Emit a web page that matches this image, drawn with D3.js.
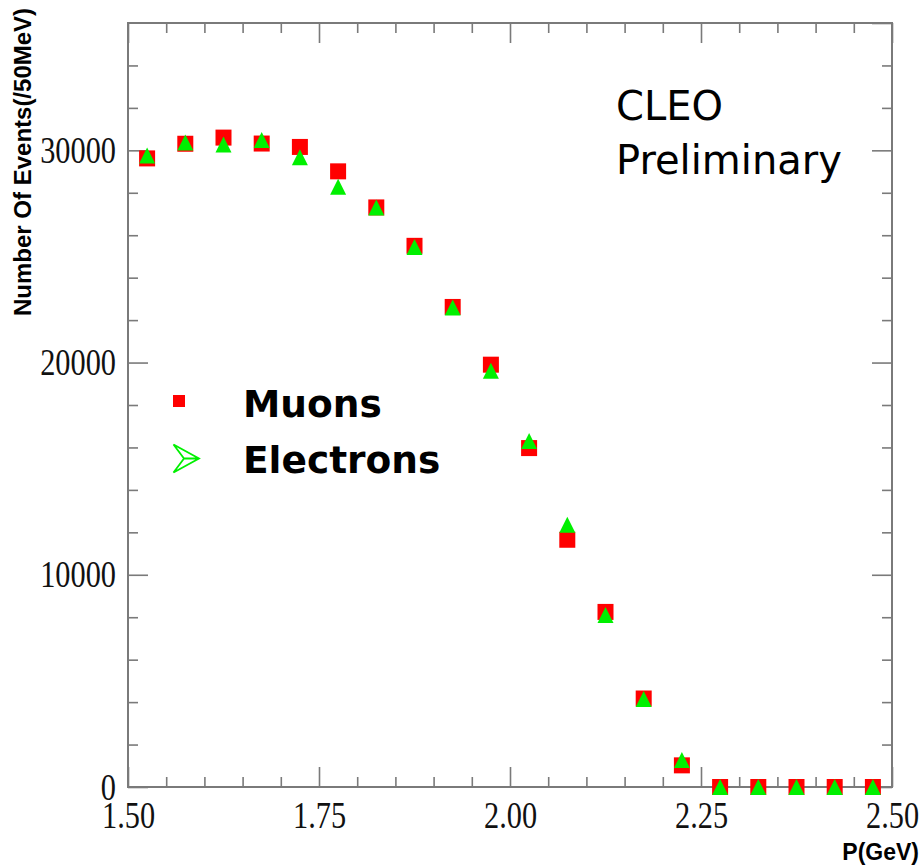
<!DOCTYPE html>
<html>
<head>
<meta charset="utf-8">
<script src="https://cdn.jsdelivr.net/npm/d3@7"></script>
<style>
  html, body { margin: 0; padding: 0; background: #fff; }
  svg { display: block; }
</style>
</head>
<body>
<svg id="chart" width="920" height="866"></svg>
<script>
// Momentum bin centres (GeV), 50 MeV wide
const momentum = [1.525, 1.575, 1.625, 1.675, 1.725, 1.775, 1.825, 1.875, 1.925, 1.975,
                  2.025, 2.075, 2.125, 2.175, 2.225, 2.275, 2.325, 2.375, 2.425, 2.475];
// Events per 50 MeV bin
const muons     = [29620, 30310, 30600, 30320, 30160, 29010, 27310, 25500, 22620, 19900,
                   15970, 11650, 8250, 4170, 1020, 0, 0, 0, 0, 0];
const electrons = [29760, 30370, 30270, 30490, 29670, 28280, 27310, 25450, 22590, 19610,
                   16300, 12360, 8110, 4150, 1270, 0, 0, 0, 0, 0];

const xMajorTicks = [1.50, 1.75, 2.00, 2.25, 2.50];
const xMinorTicks = [1.55, 1.60, 1.65, 1.70, 1.80, 1.85, 1.90, 1.95, 2.05, 2.10, 2.15, 2.20, 2.30, 2.35, 2.40, 2.45];
const yMajorTicks = [0, 10000, 20000, 30000];
const yMinorTicks = [2000, 4000, 6000, 8000, 12000, 14000, 16000, 18000, 22000, 24000, 26000, 28000, 32000, 34000];

const legendLabels = ["Muons", "Electrons"];
const noteLines = ["CLEO", "Preliminary"];

const frame = { left: 128, right: 892, top: 23, bottom: 787 };
const svg = d3.select("#chart");

const x = d3.scaleLinear().domain([1.5, 2.5]).range([frame.left, frame.right]);
const y = d3.scaleLinear().domain([0, 36000]).range([frame.bottom, frame.top]);

const axisColor = "#7a7a7a";
const serif = "'Liberation Serif', 'Times New Roman', serif";
const squeeze = 0.82;

function styleAxis(g) {
  g.select(".domain").remove();
  g.selectAll(".tick line").attr("stroke", axisColor).attr("stroke-width", 1.6);
}

// Bottom axis: minor + major ticks pointing inward, serif labels
svg.append("g").attr("transform", `translate(0,${frame.bottom})`)
  .call(d3.axisBottom(x).tickValues(xMinorTicks).tickSize(-10).tickFormat(""))
  .call(styleAxis);
const xb = svg.append("g").attr("transform", `translate(0,${frame.bottom})`)
  .call(d3.axisBottom(x).tickValues(xMajorTicks).tickSize(-20).tickPadding(15).tickFormat(d3.format(".2f")))
  .call(styleAxis);
xb.selectAll(".tick text")
  .attr("fill", "#111").style("font-family", serif).style("font-size", "37px")
  .attr("transform", `scale(${squeeze},1)`);

// Top axis (ticks only)
svg.append("g").attr("transform", `translate(0,${frame.top})`)
  .call(d3.axisTop(x).tickValues(xMinorTicks).tickSize(-10).tickFormat(""))
  .call(styleAxis);
svg.append("g").attr("transform", `translate(0,${frame.top})`)
  .call(d3.axisTop(x).tickValues(xMajorTicks).tickSize(-20).tickFormat(""))
  .call(styleAxis);

// Left axis
svg.append("g").attr("transform", `translate(${frame.left},0)`)
  .call(d3.axisLeft(y).tickValues(yMinorTicks).tickSize(-10).tickFormat(""))
  .call(styleAxis);
const yl = svg.append("g").attr("transform", `translate(${frame.left},0)`)
  .call(d3.axisLeft(y).tickValues(yMajorTicks).tickSize(-20).tickPadding(12).tickFormat(d3.format("d")))
  .call(styleAxis);
yl.selectAll(".tick text")
  .attr("fill", "#111").style("font-family", serif).style("font-size", "37px")
  .attr("x", 0).attr("dy", "0.33em")
  .attr("transform", `translate(-12,0) scale(${squeeze},1)`);

// Right axis (ticks only)
svg.append("g").attr("transform", `translate(${frame.right},0)`)
  .call(d3.axisRight(y).tickValues(yMinorTicks).tickSize(-10).tickFormat(""))
  .call(styleAxis);
svg.append("g").attr("transform", `translate(${frame.right},0)`)
  .call(d3.axisRight(y).tickValues(yMajorTicks.concat([36000])).tickSize(-20).tickFormat(""))
  .call(styleAxis);

// Frame
svg.append("rect")
  .attr("x", frame.left).attr("y", frame.top)
  .attr("width", frame.right - frame.left).attr("height", frame.bottom - frame.top)
  .attr("fill", "none").attr("stroke", axisColor).attr("stroke-width", 2);

// Axis titles
svg.append("text")
  .attr("transform", `translate(31,316) rotate(-90)`)
  .attr("text-anchor", "start")
  .style("font-family", "'Liberation Sans', Arial, sans-serif")
  .style("font-weight", "bold").style("font-size", "24px")
  .attr("fill", "#000")
  .text("Number Of Events(/50MeV)");

svg.append("text")
  .attr("x", 919).attr("y", 860)
  .attr("text-anchor", "end")
  .style("font-family", "'Liberation Sans', Arial, sans-serif")
  .style("font-weight", "bold").style("font-size", "23px")
  .attr("fill", "#000")
  .text("P(GeV)");

// Data markers
const red = "#ff0000", green = "#00f000";
const half = 8;

svg.append("g").selectAll("rect")
  .data(momentum.map((p, i) => ({ p, v: muons[i] })))
  .join("rect")
  .attr("x", d => x(d.p) - half).attr("y", d => y(d.v) - half)
  .attr("width", 2 * half).attr("height", 2 * half)
  .attr("fill", red);

svg.append("g").selectAll("path")
  .data(momentum.map((p, i) => ({ p, v: electrons[i] })))
  .join("path")
  .attr("d", d => {
    const cx = x(d.p), cy = y(d.v);
    return `M${cx - half},${cy + half}L${cx + half},${cy + half}L${cx},${cy - half}Z`;
  })
  .attr("fill", green);

// Note text
const note = svg.append("text")
  .style("font-family", "'DejaVu Sans', sans-serif").style("font-size", "40px")
  .attr("fill", "#000");
noteLines.forEach((t, i) => {
  note.append("tspan").attr("x", 616).attr("y", 120 + i * 54).text(t);
});

// Legend
const legend = svg.append("g");
legend.append("rect")
  .attr("x", 173).attr("y", 395).attr("width", 12).attr("height", 12)
  .attr("fill", red);
legend.append("path")
  .attr("d", "M173.5,444.5L199,458.5L173.5,472.5L184,458.5Z M184,458.5L199,458.5")
  .attr("fill", "none").attr("stroke", green).attr("stroke-width", 1.8)
  .attr("stroke-linejoin", "miter");
legendLabels.forEach((t, i) => {
  legend.append("text")
    .attr("x", 243).attr("y", 417 + i * 56)
    .style("font-family", "'DejaVu Sans', sans-serif")
    .style("font-weight", "bold").style("font-size", "37.5px")
    .attr("fill", "#000")
    .text(t);
});
</script>
</body>
</html>
